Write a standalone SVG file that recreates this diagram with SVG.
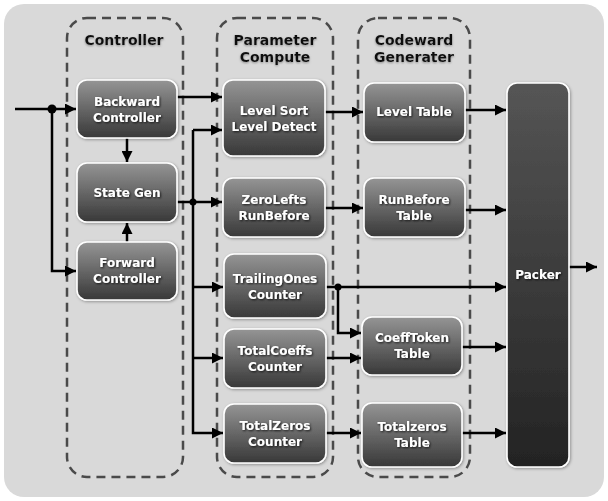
<svg xmlns="http://www.w3.org/2000/svg" width="608" height="501" viewBox="0 0 608 501">
<defs>
<linearGradient id="g" x1="0" y1="0" x2="0" y2="1">
<stop offset="0" stop-color="#959595"/><stop offset="1" stop-color="#383838"/>
</linearGradient>
<linearGradient id="gp" x1="0" y1="0" x2="0" y2="1">
<stop offset="0" stop-color="#555"/><stop offset="1" stop-color="#232323"/>
</linearGradient>
<filter id="ts" x="-20%" y="-40%" width="140%" height="180%">
<feDropShadow dx="1" dy="1" stdDeviation="0.8" flood-color="#000" flood-opacity="0.8"/>
</filter>
<filter id="tg" x="-20%" y="-40%" width="140%" height="180%">
<feDropShadow dx="0" dy="1" stdDeviation="1.2" flood-color="#777" flood-opacity="0.8"/>
</filter>
<filter id="bs" x="-10%" y="-10%" width="120%" height="120%">
<feDropShadow dx="1" dy="1" stdDeviation="1.5" flood-color="#000" flood-opacity="0.35"/>
</filter>
<marker id="a" viewBox="0 0 10 10" refX="10" refY="5" markerWidth="5.5" markerHeight="4.4" orient="auto" markerUnits="strokeWidth">
<path d="M0,0 L10,5 L0,10 z" fill="#000"/>
</marker>
</defs>
<style>
.grp{fill:none;stroke:#4a4a4a;stroke-width:2.5;stroke-dasharray:9 6}
.nd{fill:url(#g);stroke:#fff;stroke-width:1.6;filter:url(#bs)}
.t{font-family:"DejaVu Sans",Verdana,sans-serif;font-weight:bold;font-size:12px;fill:#fff;text-anchor:middle;filter:url(#ts)}
.h{font-family:"DejaVu Sans",Verdana,sans-serif;font-weight:bold;font-size:14px;fill:#111;text-anchor:middle;filter:url(#tg)}
.c path{fill:none;stroke:#000;stroke-width:2.5}
.c .ar{marker-end:url(#a)}
</style>
<rect x="0" y="0" width="608" height="501" fill="#fff"/>
<rect x="4" y="4" width="600" height="493" rx="20" fill="#d9d9d9"/>

<g id="controller">
<rect class="grp" x="67" y="18" width="116" height="459" rx="20"/>
<text class="h" x="124" y="45">Controller</text>
</g>
<g id="parameter-compute">
<rect class="grp" x="217" y="18" width="116" height="459" rx="20"/>
<text class="h" x="275" y="45">Parameter</text>
<text class="h" x="275" y="62">Compute</text>
</g>
<g id="codeward-generater">
<rect class="grp" x="358" y="18" width="112" height="459" rx="20"/>
<text class="h" x="414" y="45">Codeward</text>
<text class="h" x="414" y="62">Generater</text>
</g>

<g class="c" id="connectors">
<path class="ar" d="M15,109 H76"/>
<path class="ar" d="M52,109 V271 H76"/>
<circle cx="52" cy="109" r="4.5" fill="#000"/>
<path class="ar" d="M127,138 V162"/>
<path class="ar" d="M127,242 V223"/>
<path class="ar" d="M177,97 H222"/>
<path class="ar" d="M177,202 H222"/>
<path d="M193,202 V130"/>
<path class="ar" d="M193,130 H222"/>
<path class="ar" d="M193,202 V433 H223"/>
<path class="ar" d="M193,287 H223"/>
<path class="ar" d="M193,358 H223"/>
<circle cx="193" cy="202" r="3.5" fill="#000"/>
<path class="ar" d="M325,112 H363"/>
<path class="ar" d="M325,208 H363"/>
<path class="ar" d="M465,110 H506"/>
<path class="ar" d="M465,210 H506"/>
<path class="ar" d="M326,287 H506"/>
<path class="ar" d="M338,287 V333 H361"/>
<circle cx="338" cy="287" r="3.5" fill="#000"/>
<path class="ar" d="M326,358 H361"/>
<path class="ar" d="M462,347 H506"/>
<path class="ar" d="M326,433 H361"/>
<path class="ar" d="M462,433 H506"/>
<path class="ar" d="M569,267 H597"/>
</g>

<g id="backward-controller">
<rect class="nd" x="77" y="80" width="100" height="58" rx="10"/>
<text class="t" x="127" y="106">Backward</text>
<text class="t" x="127" y="122">Controller</text>
</g>
<g id="state-gen">
<rect class="nd" x="77" y="163" width="100" height="59" rx="10"/>
<text class="t" x="127" y="197">State Gen</text>
</g>
<g id="forward-controller">
<rect class="nd" x="77" y="242" width="100" height="58" rx="10"/>
<text class="t" x="127" y="267">Forward</text>
<text class="t" x="127" y="283">Controller</text>
</g>
<g id="level-sort">
<rect class="nd" x="223" y="80" width="102" height="76" rx="10"/>
<text class="t" x="274" y="115">Level Sort</text>
<text class="t" x="274" y="131">Level Detect</text>
</g>
<g id="zerolefts">
<rect class="nd" x="223" y="178" width="102" height="59" rx="10"/>
<text class="t" x="274" y="204">ZeroLefts</text>
<text class="t" x="274" y="220">RunBefore</text>
</g>
<g id="trailingones">
<rect class="nd" x="224" y="254" width="102" height="64" rx="10"/>
<text class="t" x="275" y="283">TrailingOnes</text>
<text class="t" x="275" y="299">Counter</text>
</g>
<g id="totalcoeffs">
<rect class="nd" x="224" y="329" width="102" height="59" rx="10"/>
<text class="t" x="275" y="355">TotalCoeffs</text>
<text class="t" x="275" y="371">Counter</text>
</g>
<g id="totalzeros-counter">
<rect class="nd" x="224" y="404" width="102" height="59" rx="10"/>
<text class="t" x="275" y="430">TotalZeros</text>
<text class="t" x="275" y="446">Counter</text>
</g>
<g id="level-table">
<rect class="nd" x="364" y="83" width="101" height="59" rx="10"/>
<text class="t" x="414" y="116">Level Table</text>
</g>
<g id="runbefore-table">
<rect class="nd" x="364" y="178" width="101" height="59" rx="10"/>
<text class="t" x="414" y="204">RunBefore</text>
<text class="t" x="414" y="220">Table</text>
</g>
<g id="coefftoken-table">
<rect class="nd" x="362" y="317" width="100" height="58" rx="10"/>
<text class="t" x="412" y="342">CoeffToken</text>
<text class="t" x="412" y="358">Table</text>
</g>
<g id="totalzeros-table">
<rect class="nd" x="362" y="403" width="100" height="64" rx="10"/>
<text class="t" x="412" y="431">Totalzeros</text>
<text class="t" x="412" y="447">Table</text>
</g>
<g id="packer">
<rect x="507" y="83" width="62" height="384" rx="10" fill="url(#gp)" stroke="#fff" stroke-width="1.6" filter="url(#bs)"/>
<text class="t" x="538" y="279">Packer</text>
</g>
</svg>
